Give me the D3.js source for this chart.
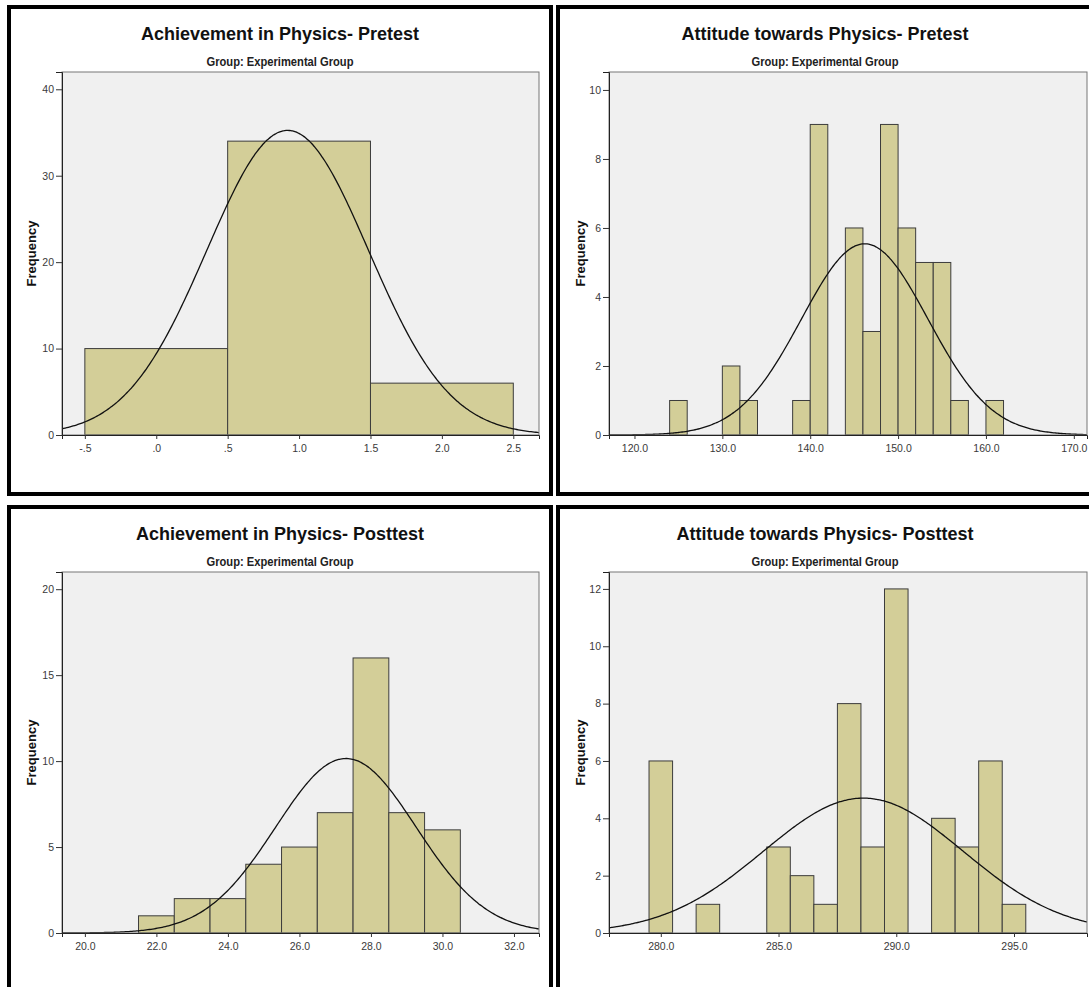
<!DOCTYPE html>
<html>
<head>
<meta charset="utf-8">
<script src="https://cdn.jsdelivr.net/npm/d3@7"></script>
<style>
body{margin:0;background:#fff}
svg{display:block}
</style>
</head>
<body>
<div id="app"></div>
<script>
// histogram data (bin start, count)
var achPreStarts = [-0.5, 0.5, 1.5]
var achPreCounts = [10, 34, 6]
var achPreTicks = [-0.5, 0, 0.5, 1, 1.5, 2, 2.5]
var achPreTickLabels = ["-.5", ".0", ".5", "1.0", "1.5", "2.0", "2.5"]
var achPreYTicks = [0, 10, 20, 30, 40]

var attPreStarts = [124, 130, 132, 138, 140, 144, 146, 148, 150, 152, 154, 156, 160]
var attPreCounts = [1, 2, 1, 1, 9, 6, 3, 9, 6, 5, 5, 1, 1]
var attPreTicks = [120, 130, 140, 150, 160, 170]
var attPreYTicks = [0, 2, 4, 6, 8, 10]

var achPostStarts = [21.5, 22.5, 23.5, 24.5, 25.5, 26.5, 27.5, 28.5, 29.5]
var achPostCounts = [1, 2, 2, 4, 5, 7, 16, 7, 6]
var achPostTicks = [20, 22, 24, 26, 28, 30, 32]
var achPostYTicks = [0, 5, 10, 15, 20]

var attPostStarts = [279.5, 281.5, 284.5, 285.5, 286.5, 287.5, 288.5, 289.5, 291.5, 292.5, 293.5, 294.5]
var attPostCounts = [6, 1, 3, 2, 1, 8, 3, 12, 4, 3, 6, 1]
var attPostTicks = [280, 285, 290, 295]
var attPostYTicks = [0, 2, 4, 6, 8, 10, 12]

// fitted normal curve parameters: mean, sd, n
var achPreFit = [0.92, 0.566, 50]
var attPreFit = [146.2, 7.2, 50]
var achPostFit = [27.3, 1.965, 50]
var attPostFit = [288.6, 4.24, 50]

var W = 1089, H = 987
var svg = d3.select("#app").append("svg").attr("width", W).attr("height", H)

var panels = [
  {title:"Achievement in Physics- Pretest", box:[9,7,542,487], plot:[62,72,539,435],
   starts:achPreStarts, counts:achPreCounts, bw:1, xdom:[-0.66,2.68], ymax:42,
   xticks:achPreTicks, xlabels:achPreTickLabels, yticks:achPreYTicks, fit:achPreFit},
  {title:"Attitude towards Physics- Pretest", box:[558,7,534,487], plot:[609,72,1087,435],
   starts:attPreStarts, counts:attPreCounts, bw:2, xdom:[117.1,171.5], ymax:10.52,
   xticks:attPreTicks, yticks:attPreYTicks, fit:attPreFit},
  {title:"Achievement in Physics- Posttest", box:[9,507,542,487], plot:[62,572,539,933],
   starts:achPostStarts, counts:achPostCounts, bw:1, xdom:[19.36,32.7], ymax:21,
   xticks:achPostTicks, yticks:achPostYTicks, fit:achPostFit},
  {title:"Attitude towards Physics- Posttest", box:[558,507,534,487], plot:[609,572,1087,933],
   starts:attPostStarts, counts:attPostCounts, bw:1, xdom:[277.8,298.1], ymax:12.59,
   xticks:attPostTicks, yticks:attPostYTicks, fit:attPostFit}
]

function drawPanel(p, idx){
  var g = svg.append("g")
  var b = p.box
  g.append("rect").attr("x",b[0]).attr("y",b[1]).attr("width",b[2]).attr("height",b[3])
    .attr("fill","#fff").attr("stroke","#000").attr("stroke-width",4)

  var cx = b[0] + b[2]/2
  g.append("text").text(p.title)
    .attr("x",cx).attr("y",b[1]+33)
    .attr("text-anchor","middle")
    .style("font-family","'Liberation Sans',Arial,sans-serif")
    .style("font-weight","bold").style("font-size","18px").attr("fill","#111")
  // SPSS uses a condensed face here, squeeze a regular bold one
  g.append("text").text("Group: Experimental Group")
    .attr("transform","translate("+cx+","+(b[1]+59)+") scale(0.86,1)")
    .attr("text-anchor","middle")
    .style("font-family","'Liberation Sans',Arial,sans-serif")
    .style("font-weight","bold").style("font-size","13px").attr("fill","#222")

  var pl = p.plot
  var x = d3.scaleLinear().domain(p.xdom).range([pl[0], pl[2]])
  var y = d3.scaleLinear().domain([0, p.ymax]).range([pl[3], pl[1]])

  g.append("rect").attr("x",pl[0]).attr("y",pl[1]).attr("width",pl[2]-pl[0]).attr("height",pl[3]-pl[1])
    .attr("fill","#f0f0f0")

  var bins = p.starts.map((s,i)=>({x0:s, x1:s+p.bw, n:p.counts[i]}))
  g.selectAll(".bar").data(bins).enter().append("rect").attr("class","bar")
    .attr("x",d=>x(d.x0)).attr("y",d=>y(d.n))
    .attr("width",d=>x(d.x1)-x(d.x0)).attr("height",d=>y(0)-y(d.n))
    .attr("fill","#d3ce98").attr("stroke","#3c3c3c").attr("stroke-width",1)

  var clipId = "clip"+idx
  svg.append("clipPath").attr("id",clipId).append("rect")
    .attr("x",pl[0]).attr("y",pl[1]).attr("width",pl[2]-pl[0]).attr("height",pl[3]-pl[1])

  var mean = p.fit[0], sd = p.fit[1], n = p.fit[2]
  var peak = n*p.bw/(sd*Math.sqrt(2*Math.PI))
  var xs = d3.range(301).map(i=>p.xdom[0] + (p.xdom[1]-p.xdom[0])*i/300)
  var line = d3.line().x(d=>x(d)).y(d=>y(peak*Math.exp(-0.5*Math.pow((d-mean)/sd,2)))).curve(d3.curveBasis)
  g.append("path").datum(xs).attr("d",line).attr("clip-path","url(#"+clipId+")")
    .attr("fill","none").attr("stroke","#111").attr("stroke-width",1.3)

  g.append("rect").attr("x",pl[0]).attr("y",pl[1]).attr("width",pl[2]-pl[0]).attr("height",pl[3]-pl[1])
    .attr("fill","none").attr("stroke","#777").attr("stroke-width",1)

  var yAxis = d3.axisLeft(y).tickValues(p.yticks).tickFormat(d3.format("d")).tickSize(6).tickPadding(2)
  var ya = g.append("g").attr("transform","translate("+pl[0]+",0)").call(yAxis)
  ya.select(".domain").attr("stroke","#222")

  var xAxis = d3.axisBottom(x).tickValues(p.xticks).tickSize(4).tickPadding(6)
    .tickFormat((d,i)=>p.xlabels ? p.xlabels[i] : d3.format(".1f")(d))
  var xa = g.append("g").attr("transform","translate(0,"+pl[3]+")").call(xAxis)
  xa.select(".domain").attr("stroke","#222")

  g.selectAll(".tick text").style("font-family","'Liberation Sans',Arial,sans-serif")
    .style("font-size","10.5px").attr("fill","#3a3a3a")
  g.selectAll(".tick line").attr("stroke","#333")

  g.append("text").text("Frequency")
    .attr("transform","translate("+(b[0]+27)+","+((pl[1]+pl[3])/2)+") rotate(-90)")
    .attr("text-anchor","middle")
    .style("font-family","'Liberation Sans',Arial,sans-serif")
    .style("font-weight","bold").style("font-size","13px").attr("fill","#111")
}

panels.forEach(drawPanel)
</script>
</body>
</html>
